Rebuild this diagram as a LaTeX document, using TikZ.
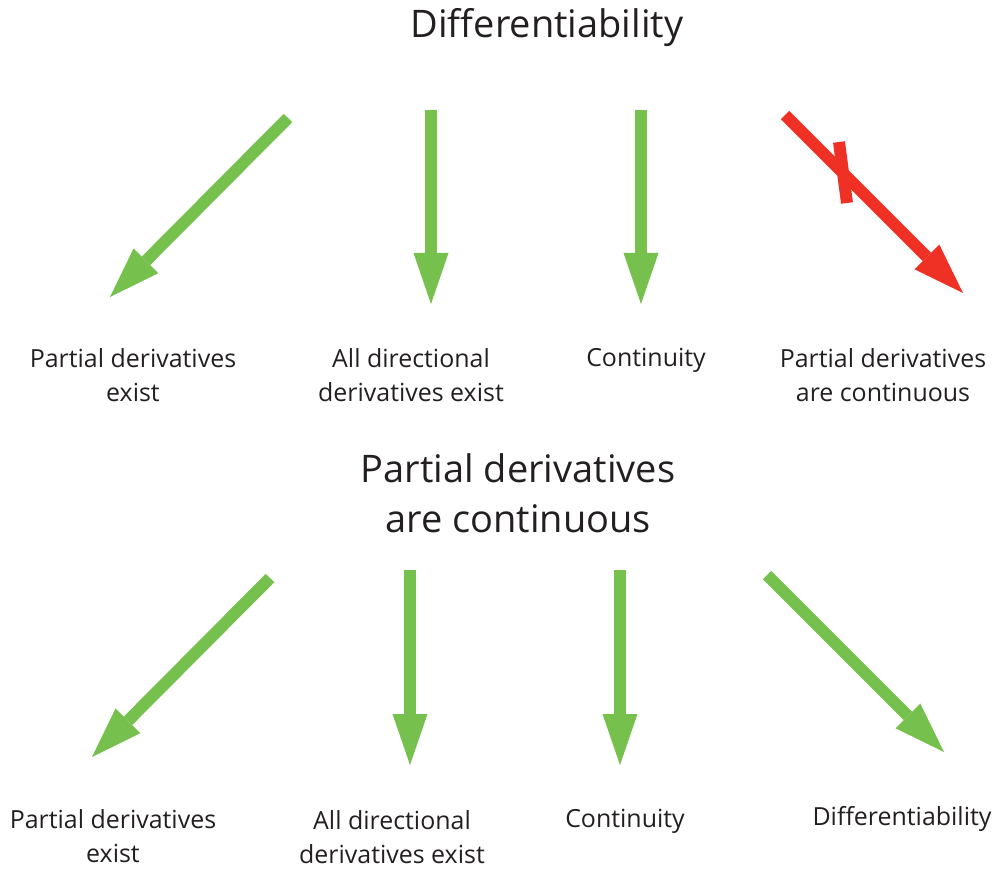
\documentclass[tikz,border=0pt]{standalone}
\usepackage{fontspec}
\setmainfont{Open Sans}
\usetikzlibrary{arrows.meta}
\definecolor{arrgreen}{HTML}{76C04E}
\definecolor{arrred}{HTML}{EE3124}
\definecolor{txt}{HTML}{231F20}
\begin{document}
\begin{tikzpicture}[x=0.75pt,y=-0.75pt,
  bigarrow/.style={line width=9pt, draw=#1, -{Triangle[length=38.25pt,width=26.25pt,line width=0pt]}, fill=#1},
  small/.style={text=txt, align=center, inner sep=0pt, font=\fontsize{18.7}{25.5}\selectfont},
  big/.style={text=txt, align=center, inner sep=0pt, font=\fontsize{28.5}{37.5}\selectfont}]
\useasboundingbox (0,0) rectangle (997,870);
% titles
\node[big] (t1) at (547,28) {Differentiability};
\node[big] (t2) at (518,493) {Partial derivatives\\are continuous};
% top labels
\node[small] (a1) at (133,375) {Partial derivatives\\exist};
\node[small] (a2) at (411,375) {All directional\\derivatives exist};
\node[small] (a3) at (646,360) {Continuity};
\node[small] (a4) at (883,375) {Partial derivatives\\are continuous};
% bottom labels
\node[small] (b1) at (113,836) {Partial derivatives\\exist};
\node[small] (b2) at (392,837) {All directional\\derivatives exist};
\node[small] (b3) at (625,821) {Continuity};
\node[small] (b4) at (902,819) {Differentiability};
% arrow coordinates
\coordinate (s1) at (288,118); \coordinate (e1) at (110,297);
\coordinate (s2) at (431,110); \coordinate (e2) at (431,304);
\coordinate (s3) at (641,110); \coordinate (e3) at (641,304);
\coordinate (s4) at (785,115); \coordinate (e4) at (963,293);
\coordinate (x1) at (839,142); \coordinate (x2) at (847,203);
\coordinate (u1) at (270,578); \coordinate (f1) at (92,757);
\coordinate (u2) at (410,570); \coordinate (f2) at (410,765);
\coordinate (u3) at (620,570); \coordinate (f3) at (620,765);
\coordinate (u4) at (767,575); \coordinate (f4) at (944,752);
\draw[bigarrow=arrgreen] (s1) -- (e1);
\draw[bigarrow=arrgreen] (s2) -- (e2);
\draw[bigarrow=arrgreen] (s3) -- (e3);
\draw[bigarrow=arrred] (s4) -- (e4);
\draw[line width=9pt, draw=arrred] (x1) -- (x2);
\draw[bigarrow=arrgreen] (u1) -- (f1);
\draw[bigarrow=arrgreen] (u2) -- (f2);
\draw[bigarrow=arrgreen] (u3) -- (f3);
\draw[bigarrow=arrgreen] (u4) -- (f4);
\end{tikzpicture}
\end{document}
